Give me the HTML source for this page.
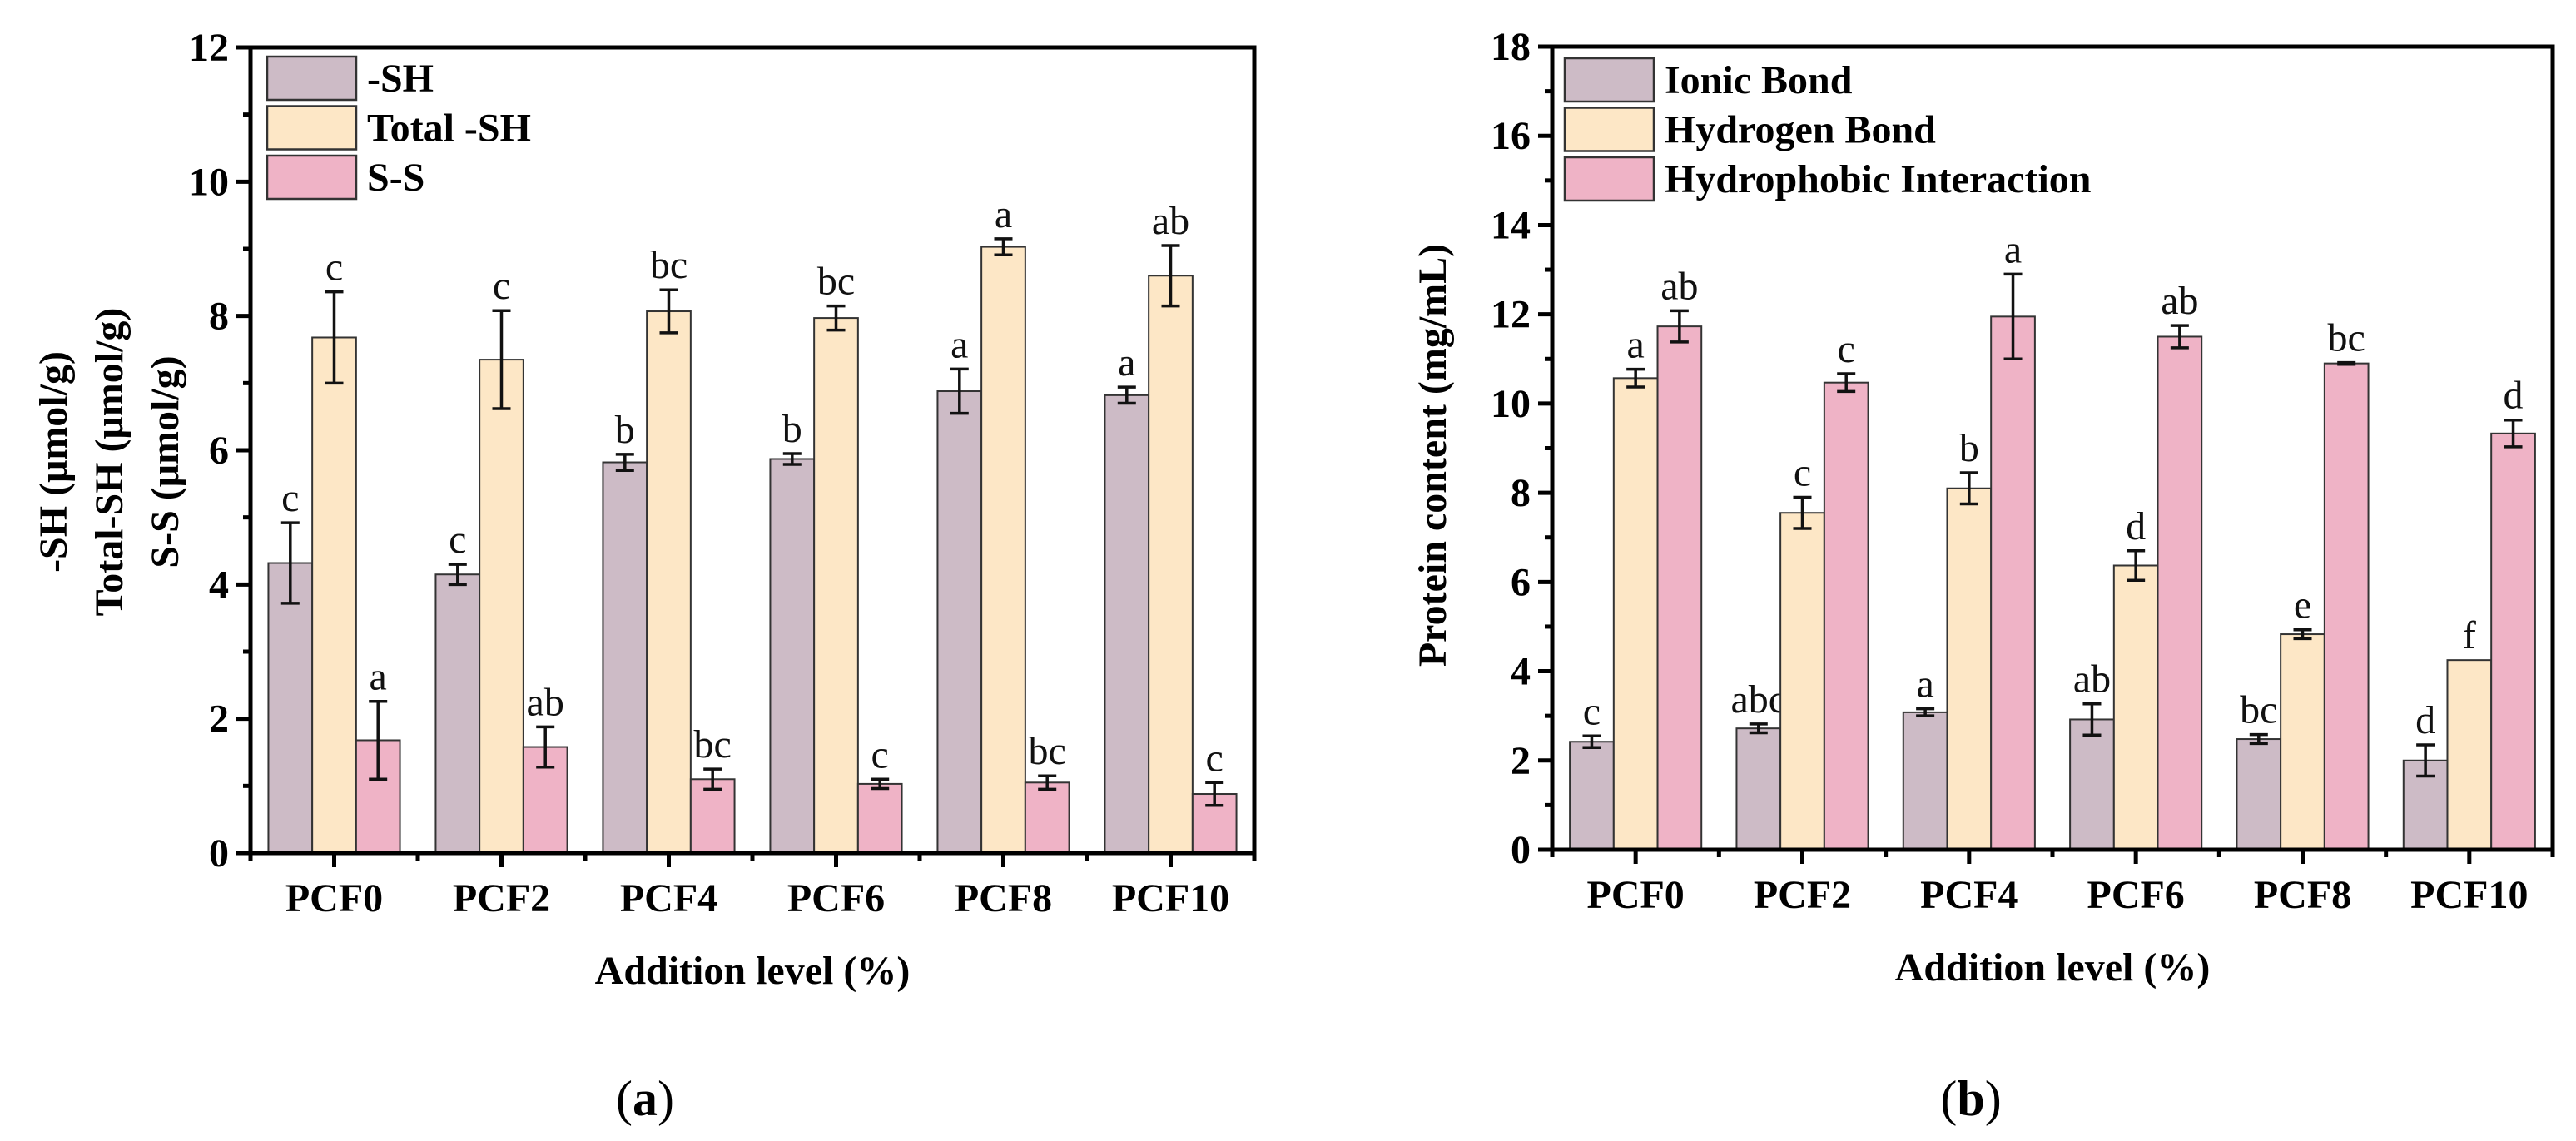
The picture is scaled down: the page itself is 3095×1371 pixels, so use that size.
<!DOCTYPE html>
<html><head><meta charset="utf-8"><style>
html,body{margin:0;padding:0;background:#fff;}
svg{display:block;}
svg text{font-family:"Liberation Serif","Times New Roman",Times,serif;}
</style></head><body>
<svg id="fig" width="3095" height="1371" viewBox="0 0 3095 1371" xmlns="http://www.w3.org/2000/svg" font-family="Liberation Serif, Times New Roman, serif"></svg>
<script>
const categories = ["PCF0","PCF2","PCF4","PCF6","PCF8","PCF10"];
// Panel a
const shVals = [4.32,4.15,5.82,5.87,6.88,6.82];
const shErr = [0.6,0.15,0.12,0.08,0.33,0.12];
const shLet = ["c","c","b","b","a","a"];
const totVals = [7.68,7.35,8.07,7.97,9.03,8.60];
const totErr = [0.68,0.73,0.32,0.18,0.12,0.45];
const totLet = ["c","c","bc","bc","a","ab"];
const ssVals = [1.68,1.58,1.10,1.03,1.05,0.88];
const ssErr = [0.58,0.30,0.15,0.07,0.10,0.17];
const ssLet = ["a","ab","bc","c","bc","c"];
const aTicks = [0,2,4,6,8,10,12];
// Panel b
const ionVals = [2.42,2.72,3.08,2.92,2.48,2.0];
const ionErr = [0.13,0.10,0.08,0.35,0.10,0.35];
const ionLet = ["c","abc","a","ab","bc","d"];
const hydVals = [10.57,7.55,8.10,6.37,4.83,4.25];
const hydErr = [0.20,0.35,0.35,0.33,0.10,0.0];
const hydLet = ["a","c","b","d","e","f"];
const phoVals = [11.73,10.47,11.95,11.50,10.90,9.33];
const phoErr = [0.35,0.20,0.95,0.25,0.02,0.30];
const phoLet = ["ab","c","a","ab","bc","d"];
const bTicks = [0,2,4,6,8,10,12,14,16,18];

const NS="http://www.w3.org/2000/svg";
const svg=document.getElementById('fig');
const FF="Liberation Serif, Times New Roman, serif";
function mk(tag,attrs,parent,text){const e=document.createElementNS(NS,tag);for(const k in attrs)e.setAttribute(k,attrs[k]);if(tag==='text')e.setAttribute('font-family',FF);if(text!==undefined)e.textContent=text;(parent||svg).appendChild(e);return e;}
const colors=["#cdbbc6","#fde7c6","#efb3c6"];

function panel(cfg){
  const g=mk('g',{});
  
  
  const {x0,x1,y0,y1,max}=cfg;
  const ys=v=>y0-(v/max)*(y0-y1);
  const slot=(x1-x0)/categories.length;
  const xc=i=>x0+slot*(i+0.5);
  const bw=52.7;
  cfg.series.forEach((s,si)=>{
    s.vals.forEach((v,i)=>{
      const bx=xc(i)-1.5*bw+si*bw;
      const r=mk('rect',{x:bx,y:ys(v),width:bw,height:y0-ys(v),fill:colors[si],stroke:"#333",'stroke-width':2},g);
      
      
      const cx=bx+bw/2,e=s.err[i];
      if(e>0.005){
        const eb=mk('path',{d:`M${cx},${ys(v+e)}V${ys(v-e)}M${cx-11},${ys(v+e)}H${cx+11}M${cx-11},${ys(v-e)}H${cx+11}`,stroke:"#111",'stroke-width':3.5,fill:"none"},g);
        
        
      }
      const t=mk('text',{x:cx,y:ys(v+e)-14,'font-size':48,'text-anchor':'middle',fill:'#111'},g,s.lets[i]);
      
      
    });
  });
  const fr=mk('rect',{x:x0,y:y1,width:x1-x0,height:y0-y1,fill:'none',stroke:'#000','stroke-width':5},g);
  
  
  cfg.ticks.forEach((t,k)=>{
    const y=ys(t);
    mk('line',{x1:x0-17,x2:x0,y1:y,y2:y,stroke:'#000','stroke-width':5},g);
    const tl=mk('text',{x:x0-26,y:y+16,'font-size':48,'font-weight':'bold','text-anchor':'end'},g,String(t));
    
    
    if(k<cfg.ticks.length-1){const ym=ys(t+(cfg.ticks[1]-cfg.ticks[0])/2);mk('line',{x1:x0-9,x2:x0,y1:ym,y2:ym,stroke:'#000','stroke-width':5},g);}
  });
  categories.forEach((c,i)=>{
    mk('line',{x1:xc(i),x2:xc(i),y1:y0,y2:y0+17,stroke:'#000','stroke-width':5},g);
    mk('line',{x1:x0+slot*i,x2:x0+slot*i,y1:y0,y2:y0+9,stroke:'#000','stroke-width':5},g);
    const tl=mk('text',{x:xc(i),y:y0+70,'font-size':48,'font-weight':'bold','text-anchor':'middle'},g,c);
    
    
  });
  mk('line',{x1:x1,x2:x1,y1:y0,y2:y0+9,stroke:'#000','stroke-width':5},g);
  const xt=mk('text',{x:(x0+x1)/2,y:y0+157,'font-size':48,'font-weight':'bold','text-anchor':'middle'},g,'Addition level (%)');
  
  
  cfg.series.forEach((s,si)=>{
    const ly=cfg.legY+si*cfg.legStep;
    const lr=mk('rect',{x:cfg.legX,y:ly,width:107,height:cfg.legH,fill:colors[si],stroke:'#333','stroke-width':2.5},g);
    
    
    const lt=mk('text',{x:cfg.legX+120,y:ly+cfg.legH/2+16,'font-size':48,'font-weight':'bold'},g,s.label);
    
    
  });
  return {g,ys};
}

panel({name:'panel-a-chart',x0:301,x1:1507,y0:1025,y1:57,max:12,ticks:aTicks,legX:321,legY:68,legStep:59.5,legH:52,
  series:[{key:'sh',label:'-SH',vals:shVals,err:shErr,lets:shLet},{key:'total-sh',label:'Total -SH',vals:totVals,err:totErr,lets:totLet},{key:'ss',label:'S-S',vals:ssVals,err:ssErr,lets:ssLet}]});
panel({name:'panel-b-chart',x0:1865,x1:3067,y0:1021,y1:56,max:18,ticks:bTicks,legX:1880,legY:70,legStep:59.5,legH:52,
  series:[{key:'ionic',label:'Ionic Bond',vals:ionVals,err:ionErr,lets:ionLet},{key:'hydrogen',label:'Hydrogen Bond',vals:hydVals,err:hydErr,lets:hydLet},{key:'hydrophobic',label:'Hydrophobic Interaction',vals:phoVals,err:phoErr,lets:phoLet}]});

[["-SH (μmol/g)",80],["Total-SH (μmol/g)",147],["S-S (μmol/g)",214]].forEach(([t,x])=>{
  const e=mk('text',{x:0,y:0,transform:`translate(${x},555) rotate(-90)`,'font-size':48,'font-weight':'bold','text-anchor':'middle'},svg,t);
  
  
});
const yb=mk('text',{x:0,y:0,transform:'translate(1737,547) rotate(-90)','font-size':48,'font-weight':'bold','text-anchor':'middle'},svg,'Protein content (mg/mL)');



const ca=mk('text',{x:775,y:1340,'font-size':60,'text-anchor':'middle'},svg);


ca.innerHTML='(<tspan font-weight="bold">a</tspan>)';
const cb=mk('text',{x:2368,y:1340,'font-size':60,'text-anchor':'middle'},svg);


cb.innerHTML='(<tspan font-weight="bold">b</tspan>)';
</script>
</body></html>
